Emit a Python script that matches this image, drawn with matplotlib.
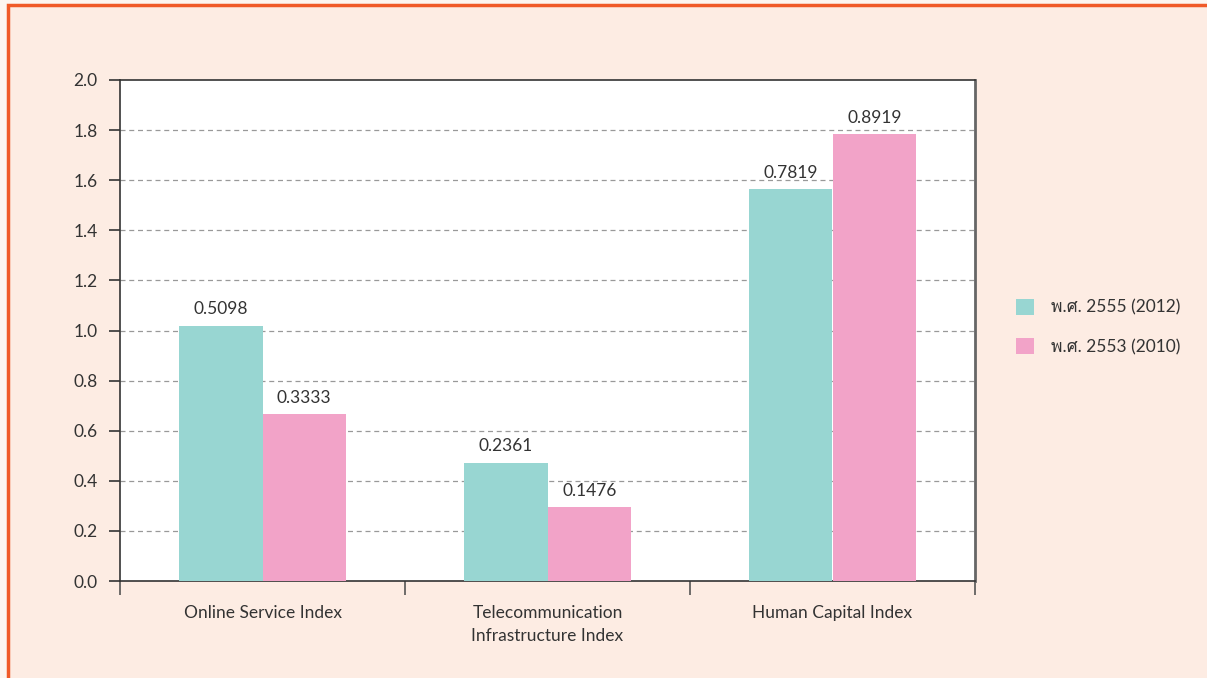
import numpy as np
import matplotlib
matplotlib.use("Agg")
import matplotlib.pyplot as plt
from matplotlib.patches import Rectangle
from matplotlib import font_manager
from matplotlib.ft2font import FT2Font

categories = ["Online Service Index", "Telecommunication\nInfrastructure Index", "Human Capital Index"]
series_names = ["พ.ศ. 2555 (2012)", "พ.ศ. 2553 (2010)"]
# bar heights as drawn on the chart's axis
heights_2012 = [1.0196, 0.4722, 1.5638]
heights_2010 = [0.6666, 0.2952, 1.7838]
# value labels printed above the bars
labels_2012 = ["0.5098", "0.2361", "0.7819"]
labels_2010 = ["0.3333", "0.1476", "0.8919"]
yticks = [0.0, 0.2, 0.4, 0.6, 0.8, 1.0, 1.2, 1.4, 1.6, 1.8, 2.0]


def find_thai_family():
    # look for any installed font with Thai glyphs
    for f in font_manager.fontManager.ttflist:
        try:
            cmap = FT2Font(f.fname).get_charmap()
        except Exception:
            continue
        if ord("พ") in cmap and ord("ศ") in cmap:
            return f.name
    return None


families = ['Lato', 'DejaVu Sans']
thai = find_thai_family()
if thai:
    families.insert(1, thai)
plt.rcParams['font.family'] = families

bg = "#fdece3"
teal = "#98d6d2"
pink = "#f2a3c8"
txt = "#333333"
fs = 12.5

fig = plt.figure(figsize=(12.07, 6.78), dpi=100, facecolor="#fdf5f0")
fig.patches.append(Rectangle((8/1207, -0.05), 1.2, 1 - 5/678 + 0.05, transform=fig.transFigure,
                             facecolor=bg, edgecolor="#f05a28", linewidth=2.5, zorder=-10))
ax = fig.add_axes([120/1207, 97/678, 855/1207, 501/678])
ax.set_facecolor("white")

x = np.arange(len(categories))
w = 0.293
b1 = ax.bar(x - w/2, heights_2012, w, color=teal, label=series_names[0], zorder=3)
b2 = ax.bar(x + w/2, heights_2010, w, color=pink, label=series_names[1], zorder=3)
for bars, labs in [(b1, labels_2012), (b2, labels_2010)]:
    for r, lab in zip(bars, labs):
        ax.annotate(lab, (r.get_x() + r.get_width()/2, r.get_height()), xytext=(0, 6),
                    textcoords="offset points", ha="center", va="bottom", fontsize=fs, color=txt)

ax.set_xlim(-0.5, 2.5)
ax.set_ylim(0, 2.0)
ax.set_yticks(yticks)
ax.set_yticklabels([f"{v:.1f}" for v in yticks])
for v in yticks[1:-1]:
    ax.axhline(v, color="#999999", linestyle=(0, (4, 3)), linewidth=0.9, zorder=1)

ax.set_xticks([-0.5, 0.5, 1.5, 2.5])
ax.set_xticklabels([])
ax.set_xticks(x, minor=True)
ax.set_xticklabels(categories, minor=True, fontsize=fs, color=txt, linespacing=1.6)
ax.tick_params(axis="x", which="major", length=10, width=1.2, color="#555555", direction="out")
ax.tick_params(axis="x", which="minor", length=0, pad=17)
ax.tick_params(axis="y", length=8, width=1.2, color="#333333", labelsize=fs, labelcolor=txt, pad=8)
for s in ax.spines.values():
    s.set_color("#333333")
    s.set_linewidth(1.2)
ax.spines["right"].set_color("#666666")
ax.spines["right"].set_linewidth(2)

leg = ax.legend(loc="center left", bbox_to_anchor=(1.03, 0.507), frameon=False, fontsize=fs,
                handlelength=1.0, handleheight=1.0, labelspacing=1.3, handletextpad=1.0)
for t in leg.get_texts():
    t.set_color(txt)

fig.savefig("out.png", dpi=100, facecolor=fig.get_facecolor())
